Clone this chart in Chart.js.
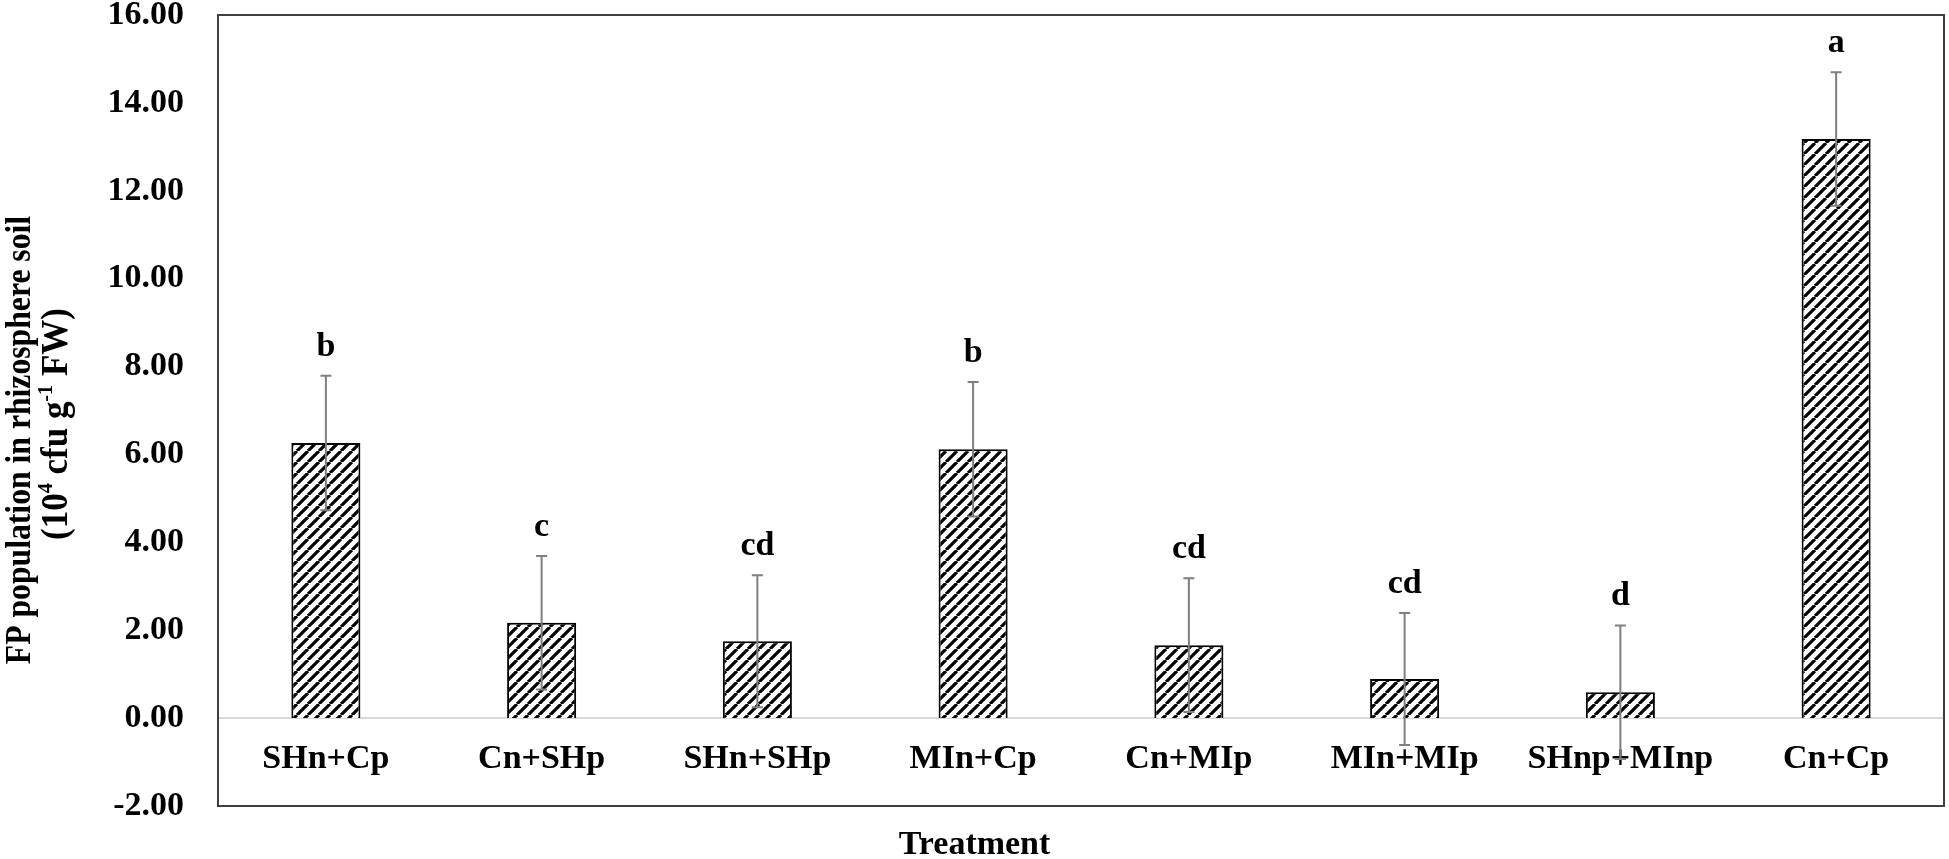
<!DOCTYPE html>
<html>
<head>
<meta charset="utf-8">
<script src="https://cdn.jsdelivr.net/npm/chart.js@4.4.0/dist/chart.umd.min.js"></script>
<style>
  html, body { margin: 0; padding: 0; background: #fff; }
  #wrap { width: 1949px; height: 859px; }
</style>
</head>
<body>
<div id="wrap"><canvas id="chart"></canvas></div>
<script>
// datos
const treatments = ['SHn+Cp', 'Cn+SHp', 'SHn+SHp', 'MIn+Cp', 'Cn+MIp', 'MIn+MIp', 'SHnp+MInp', 'Cn+Cp'];
const meanValues = [6.26, 2.17, 1.75, 6.12, 1.66, 0.89, 0.59, 13.18];
const errorValues = [1.53, 1.52, 1.50, 1.53, 1.52, 1.50, 1.52, 1.52];
const letters = ['b', 'c', 'cd', 'b', 'cd', 'cd', 'd', 'a'];
const yMin = -2, yMax = 16, yStep = 2;
const yTitle = 'FP population in rhizosphere soil';
const xTitle = 'Treatment';

const SERIF = '"Liberation Serif", "Times New Roman", serif';

// relleno rayado diagonal
function hatch() {
    const s = 11;
    const c = document.createElement('canvas');
    c.width = s; c.height = s;
    const g = c.getContext('2d');
    g.fillStyle = '#fff';
    g.fillRect(0, 0, s, s);
    g.strokeStyle = '#000';
    g.lineWidth = 3.2;
    g.beginPath();
    for (let k = -1; k <= 1; k++) {
        g.moveTo(k * s, s);
        g.lineTo(k * s + s, 0);
    }
    g.stroke();
    return g.createPattern(c, 'repeat');
}

// barras de error, letras, marco y titulos
const extras = {
    id: 'extras',
    afterDatasetsDraw(chart) {
        const { ctx, chartArea: a, scales: { x, y } } = chart;
        ctx.save();

        meanValues.forEach((v, i) => {
            const cx = x.getPixelForValue(i);
            const hi = y.getPixelForValue(v + errorValues[i]);
            const lo = y.getPixelForValue(v - errorValues[i]);
            ctx.strokeStyle = '#7f7f7f';
            ctx.lineWidth = 2;
            ctx.beginPath();
            ctx.moveTo(cx, hi); ctx.lineTo(cx, lo);
            ctx.moveTo(cx - 5.5, hi); ctx.lineTo(cx + 5.5, hi);
            ctx.moveTo(cx - 5.5, lo); ctx.lineTo(cx + 5.5, lo);
            ctx.stroke();

            ctx.fillStyle = '#000';
            ctx.font = 'bold 34px ' + SERIF;
            ctx.textAlign = 'center';
            ctx.textBaseline = 'alphabetic';
            ctx.fillText(letters[i], cx, hi - 20);
        });

        // marco del area de trazado
        ctx.strokeStyle = '#404040';
        ctx.lineWidth = 2;
        ctx.strokeRect(a.left, a.top, a.right - a.left, a.bottom - a.top);

        // titulo eje X
        ctx.fillStyle = '#000';
        ctx.font = 'bold 34px ' + SERIF;
        ctx.textAlign = 'center';
        ctx.textBaseline = 'alphabetic';
        ctx.fillText(xTitle, chart.width / 2, 854);

        // titulo eje Y, dos lineas
        ctx.save();
        ctx.translate(21, 440);
        ctx.rotate(-Math.PI / 2);
        ctx.scale(0.88, 1);
        ctx.font = 'bold 36px ' + SERIF;
        ctx.textBaseline = 'middle';
        ctx.fillText(yTitle, 0, 0);
        ctx.restore();

        ctx.save();
        ctx.translate(57, 424);
        ctx.rotate(-Math.PI / 2);
        ctx.scale(0.92, 1);
        ctx.textBaseline = 'middle';
        ctx.textAlign = 'left';
        const parts = [['(10', false], ['4', true], [' cfu g', false], ['-1', true], [' FW)', false]];
        const fontFor = sup => 'bold ' + (sup ? 22 : 38) + 'px ' + SERIF;
        let total = 0;
        parts.forEach(p => { ctx.font = fontFor(p[1]); total += ctx.measureText(p[0]).width; });
        let px = -total / 2;
        parts.forEach(p => {
            ctx.font = fontFor(p[1]);
            ctx.fillText(p[0], px, p[1] ? -11 : 0);
            px += ctx.measureText(p[0]).width;
        });
        ctx.restore();

        ctx.restore();
    }
};

new Chart(document.getElementById('chart'), {
    type: 'bar',
    data: {
        labels: treatments,
        datasets: [{
            data: meanValues,
            backgroundColor: hatch(),
            borderColor: '#000',
            borderWidth: 2,
            categoryPercentage: 1,
            barPercentage: 0.32
        }]
    },
    options: {
        responsive: true,
        maintainAspectRatio: false,
        animation: false,
        layout: { padding: { top: 15, right: 5, bottom: 53, left: 0 } },
        plugins: {
            legend: { display: false },
            tooltip: { enabled: false }
        },
        scales: {
            x: {
                position: { y: 0 },
                grid: { display: false, drawTicks: false },
                border: { display: true, color: '#d9d9d9', width: 2 },
                ticks: {
                    padding: 21,
                    color: '#000',
                    maxRotation: 0,
                    autoSkip: false,
                    font: { family: SERIF, size: 34, weight: 'bold' }
                }
            },
            y: {
                min: yMin,
                max: yMax,
                grid: { display: false, drawTicks: false },
                border: { display: false },
                afterFit: s => {
                    s.width = 218;
                    s.paddingTop = 0;
                    s.paddingBottom = 0;
                },
                ticks: {
                    stepSize: yStep,
                    padding: 34,
                    color: '#000',
                    font: { family: SERIF, size: 34, weight: 'bold' },
                    callback: v => v.toFixed(2)
                }
            }
        }
    },
    plugins: [extras]
});
</script>
</body>
</html>
